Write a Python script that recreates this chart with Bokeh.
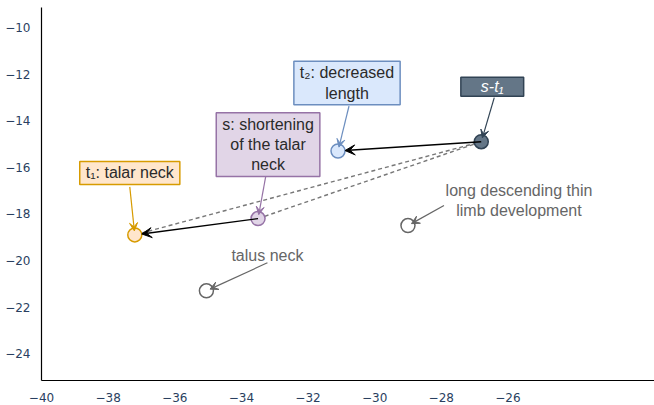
import math
from bokeh.plotting import figure
from bokeh.models import Arrow, VeeHead, Label, FixedTicker, Range1d
from bokeh.embed import file_html
from bokeh.resources import INLINE

# ---------------- data ----------------
names = ["t1", "s", "t2", "s-t1", "talus neck", "long descending thin limb development"]
xs = [-37.2, -33.5, -31.1, -26.8, -35.05, -29.0]
ys = [-18.9, -18.2, -15.3, -14.9, -21.3, -18.5]
label_texts = [
    "t\u2081: talar neck",
    "s: shortening\nof the talar\nneck",
    "t\u2082: decreased\nlength",
    "s-t\u2081",
    "talus neck",
    "long descending thin\nlimb development",
]
x_ticks = [-40, -38, -36, -34, -32, -30, -28, -26]
y_ticks = [-24, -22, -20, -18, -16, -14, -12, -10]

# black arrows (from index -> to index) and dashed links
arrow_pairs = [(3, 2), (1, 0)]
dashed_pairs = [(0, 3), (1, 3)]

# ---------------- styles / layout ----------------
fills = ["#ffe6cc", "#e1d5e7", "#dae8fc", "#647687", "#ffffff", "#ffffff"]
strokes = ["#d79b00", "#9673a6", "#6c8ebf", "#314354", "#666666", "#666666"]
text_colors = ["#2a2a2a", "#2a2a2a", "#2a2a2a", "#ffffff", "#666666", "#666666"]
boxed = [True, True, True, True, False, False]
italic = [False, False, False, True, False, False]
# label centre offsets from point, in screen px (right, down)
lab_off = [(-5, -62), (10, -74), (9, -68), (11, -55), (61, -35), (111, -25)]
# arrow tail offsets from point, in screen px
tail_off = [(-5, -48), (8, -44), (11, -45), (13, -44), (61, -28), (36, -20)]

X0, X1 = -40.0, -21.6
Y0, Y1 = -25.15, -9.14
FW, FH = 613, 373
sx = FW / (X1 - X0)
sy = FH / (Y1 - Y0)

p = figure(frame_width=FW, frame_height=FH, output_backend="svg", toolbar_location=None,
           x_range=Range1d(X0, X1), y_range=Range1d(Y0, Y1),
           min_border_left=41, min_border_right=0, min_border_top=7, min_border_bottom=25)
p.outline_line_color = None
p.xgrid.visible = False
p.ygrid.visible = False
p.background_fill_color = "white"
p.border_fill_color = "white"

for ax, ticks in ((p.xaxis, x_ticks), (p.yaxis, y_ticks)):
    ax.ticker = FixedTicker(ticks=ticks)
    ax.axis_line_color = "#000000"
    ax.axis_line_width = 1.2
    ax.major_tick_line_color = None
    ax.minor_tick_line_color = None
    ax.major_label_text_font = "DejaVu Sans"
    ax.major_label_text_font_size = "12px"
    ax.major_label_text_color = "#2a3f5f"
p.xaxis.major_label_standoff = 6
p.yaxis.major_label_standoff = 5

# dashed links
for a, b in dashed_pairs:
    p.line([xs[a], xs[b]], [ys[a], ys[b]], line_color="#777777", line_width=1.4, line_dash="4 3")

# points
p.scatter(xs, ys, size=14, fill_color=fills, line_color=strokes, line_width=1.5, marker="circle")


def shorten(x_from, y_from, x_to, y_to, standoff):
    dxp = (x_to - x_from) * sx
    dyp = (y_to - y_from) * sy
    d = math.hypot(dxp, dyp)
    f = (d - standoff) / d
    return x_from + (x_to - x_from) * f, y_from + (y_to - y_from) * f


# black arrows between points
for a, b in arrow_pairs:
    ex, ey = shorten(xs[a], ys[a], xs[b], ys[b], 7)
    p.add_layout(Arrow(x_start=xs[a], y_start=ys[a], x_end=ex, y_end=ey,
                       line_color="black", line_width=1.4,
                       end=VeeHead(size=10, fill_color="black", line_color="black")))

# annotation arrows and labels
for i in range(len(names)):
    tx = xs[i] + tail_off[i][0] / sx
    ty = ys[i] - tail_off[i][1] / sy
    ex, ey = shorten(tx, ty, xs[i], ys[i], 4)
    p.add_layout(Arrow(x_start=tx, y_start=ty, x_end=ex, y_end=ey,
                       line_color=strokes[i], line_width=1.2,
                       end=VeeHead(size=8, fill_color=strokes[i], line_color=strokes[i])))

for i in range(len(names)):
    kw = dict(x=xs[i], y=ys[i], x_offset=lab_off[i][0], y_offset=-lab_off[i][1],
              text=label_texts[i], text_align="center", text_baseline="middle",
              text_font="Liberation Sans", text_font_size="16px",
              text_line_height=1.2,
              text_color=text_colors[i],
              text_font_style="italic" if italic[i] else "normal")
    if boxed[i]:
        pad = dict(left=20, right=20, top=1, bottom=1) if i == 3 else dict(left=6, right=6, top=3, bottom=3)
        kw.update(background_fill_color=fills[i], border_line_color=strokes[i],
                  border_line_width=1.5, padding=pad)
    p.add_layout(Label(**kw))

open("out.html", "w").write(file_html(p, INLINE))
